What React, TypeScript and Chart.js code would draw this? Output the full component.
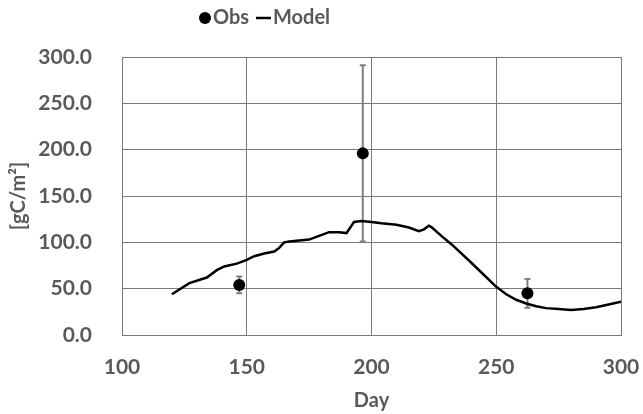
import React, { useEffect, useRef } from "react";
import { Chart, registerables } from "chart.js";

Chart.register(...registerables);

// Observations
const obsDays = [147, 196.5, 262.5];
const obsValues = [54, 196, 45];
const obsErrors = [9, 95, 15.5];

// Model
const modelDays = [120, 127, 134, 138, 141, 146, 150, 153, 157, 161, 163, 165, 167, 175, 179, 183, 187, 190, 192, 193, 196, 200, 204, 210, 215, 219, 221, 223, 224, 228, 232, 236, 240, 245, 250, 254, 258, 262, 266, 270, 275, 280, 285, 290, 295, 300];
const modelValues = [44, 56, 62, 70, 74, 77, 81, 85, 88, 90, 94, 100, 101, 103, 107, 111, 111, 110, 118, 122, 123, 122, 120.5, 119, 116, 112, 114, 118, 116.5, 107, 98, 88, 78, 65, 52, 44, 38, 34, 31, 29, 28, 27, 28, 30, 33, 36];

// Axes
const xTicks = [100, 150, 200, 250, 300];
const yTicks = [0, 50, 100, 150, 200, 250, 300];
const xTitle = "Day";
const yTitle = "[gC/m²]";
const legendLabels = ["Obs", "Model"];

const FONT = "Lato, 'Open Sans', sans-serif";
const TEXT = "#595959";
const GRID = "#7a7a7a";

const errorBarPlugin = {
  id: "errorBars",
  beforeDatasetsDraw(chart: any) {
    const { ctx, scales } = chart;
    const xs = scales.x;
    const ys = scales.y;
    ctx.save();
    ctx.strokeStyle = "#7f7f7f";
    ctx.lineWidth = 2;
    obsDays.forEach((d, i) => {
      const x = xs.getPixelForValue(d);
      const y1 = ys.getPixelForValue(obsValues[i] + obsErrors[i]);
      const y2 = ys.getPixelForValue(obsValues[i] - obsErrors[i]);
      ctx.beginPath();
      ctx.moveTo(x, y1);
      ctx.lineTo(x, y2);
      ctx.moveTo(x - 3, y1);
      ctx.lineTo(x + 3, y1);
      ctx.moveTo(x - 3, y2);
      ctx.lineTo(x + 3, y2);
      ctx.stroke();
    });
    ctx.restore();
  },
};

const legendPlugin = {
  id: "customLegend",
  afterDraw(chart: any) {
    const { ctx } = chart;
    ctx.save();
    const cy = 18;
    ctx.font = `bold 20px ${FONT}`;
    ctx.textBaseline = "middle";
    ctx.textAlign = "left";
    ctx.fillStyle = "#000";
    ctx.beginPath();
    ctx.arc(205, cy, 6, 0, Math.PI * 2);
    ctx.fill();
    ctx.fillStyle = TEXT;
    ctx.fillText(legendLabels[0], 213, cy);
    ctx.strokeStyle = "#000";
    ctx.lineWidth = 2.5;
    ctx.beginPath();
    ctx.moveTo(256, cy);
    ctx.lineTo(271, cy);
    ctx.stroke();
    ctx.fillStyle = TEXT;
    ctx.fillText(legendLabels[1], 273, cy);
    ctx.restore();
  },
};

export default function App() {
  const canvasRef = useRef<HTMLCanvasElement | null>(null);

  useEffect(() => {
    document.body.style.margin = "0";
    const canvas = canvasRef.current;
    if (!canvas) return;
    const chart = new Chart(canvas, {
      type: "scatter",
      data: {
        datasets: [
          {
            label: legendLabels[1],
            data: modelDays.map((d, i) => ({ x: d, y: modelValues[i] })),
            showLine: true,
            borderColor: "#000",
            borderWidth: 2.5,
            pointRadius: 0,
            tension: 0,
            order: 2,
          },
          {
            label: legendLabels[0],
            data: obsDays.map((d, i) => ({ x: d, y: obsValues[i] })),
            pointRadius: 6,
            backgroundColor: "#000",
            borderColor: "#000",
            borderWidth: 0,
            order: 1,
          },
        ],
      },
      options: {
        responsive: false,
        animation: false,
        layout: { padding: { top: 57, right: 22, bottom: 0, left: 0 } },
        plugins: {
          legend: { display: false },
          tooltip: { enabled: false },
        },
        scales: {
          x: {
            type: "linear",
            min: xTicks[0],
            max: xTicks[xTicks.length - 1],
            afterBuildTicks: (s: any) => {
              s.ticks = xTicks.map((v) => ({ value: v }));
            },
            afterFit: (s: any) => {
              s.height = 79;
              s.paddingLeft = 0;
              s.paddingRight = 0;
            },
            grid: { color: GRID, lineWidth: 1, drawTicks: false },
            border: { color: GRID, width: 1 },
            ticks: {
              padding: 20,
              color: TEXT,
              font: { family: FONT, size: 21, weight: "bold" },
              maxRotation: 0,
            },
            title: {
              display: true,
              text: xTitle,
              color: TEXT,
              font: { family: FONT, size: 20, weight: "bold" },
              padding: { top: 0, bottom: 1 },
            },
          },
          y: {
            type: "linear",
            min: yTicks[0],
            max: yTicks[yTicks.length - 1],
            afterBuildTicks: (s: any) => {
              s.ticks = yTicks.map((v) => ({ value: v }));
            },
            afterFit: (s: any) => {
              s.width = 122;
              s.paddingTop = 0;
              s.paddingBottom = 0;
            },
            grid: { color: GRID, lineWidth: 1, drawTicks: false },
            border: { color: GRID, width: 1 },
            ticks: {
              padding: 30,
              color: TEXT,
              font: { family: FONT, size: 21, weight: "bold" },
              callback: (v: any) => Number(v).toFixed(1),
            },
            title: {
              display: true,
              text: yTitle,
              color: TEXT,
              font: { family: FONT, size: 20, weight: "bold" },
              padding: { top: 7, bottom: 0 },
            },
          },
        },
      },
      plugins: [errorBarPlugin, legendPlugin],
    } as any);
    return () => chart.destroy();
  }, []);

  return (
    <div style={{ width: 643, height: 414 }}>
      <canvas ref={canvasRef} width={643} height={414} style={{ display: "block" }} />
    </div>
  );
}
